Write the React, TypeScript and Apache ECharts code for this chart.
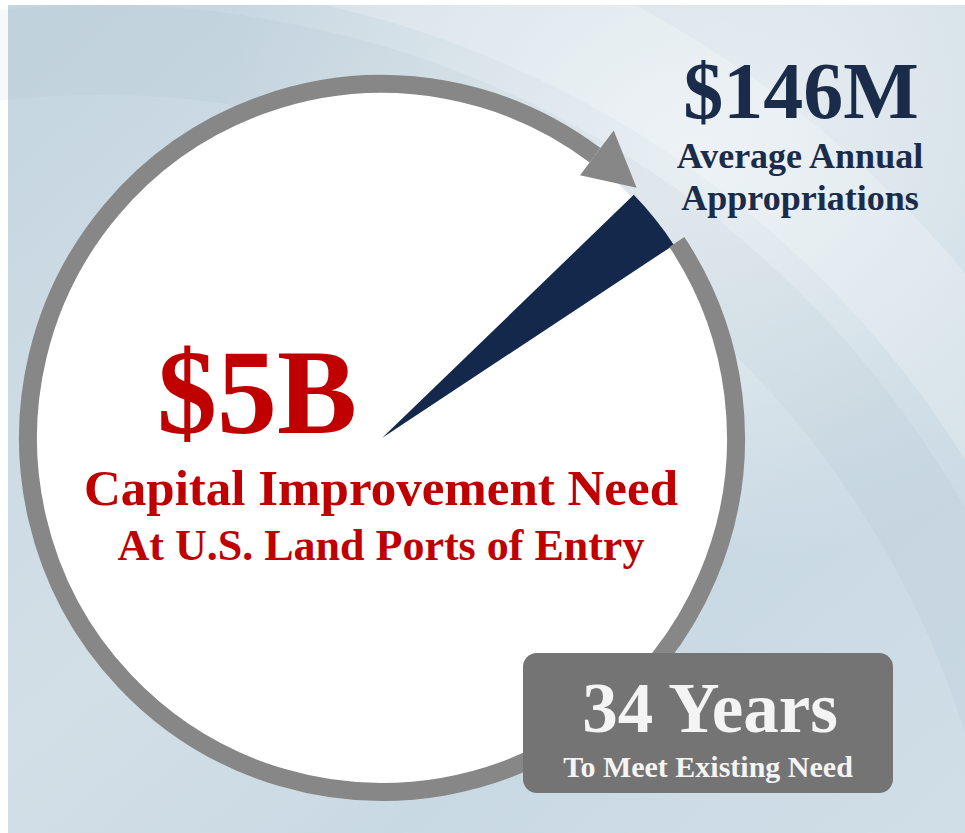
import React, { useEffect, useRef } from "react";
import * as echarts from "echarts";

// ---- data ----
const sliceNames = ["Average Annual Appropriations", "Remaining Capital Improvement Need"];
const totalNeedM = 5000; // $5B capital improvement need, in $M
const annualAppropM = 146; // $146M average annual appropriations
const yearsToMeet = 34;
const headlineLabels = ["$146M", "$5B", `${yearsToMeet} Years`];
const subLabels = [
  ["Average Annual", "Appropriations"],
  ["Capital Improvement Need", "At U.S. Land Ports of Entry"],
  ["To Meet Existing Need"],
];
const sliceValues = [annualAppropM, totalNeedM - annualAppropM];

// ---- layout ----
const CX = 382;
const CY = 438;
const SERIF = '"Liberation Serif", "Times New Roman", serif';
const RED = "#c00000";
const NAVY = "#14284b";
const NAVY_TEXT = "#1b2b4a";
const GRAY = "#878787";
const BOX = "#747474";

const deg = (d: number) => (d * Math.PI) / 180;
const pt = (angMath: number, r: number) => [CX + r * Math.cos(deg(angMath)), CY - r * Math.sin(deg(angMath))];

export default function App() {
  const ref = useRef<HTMLDivElement>(null);
  useEffect(() => {
    if (!ref.current) return;
    const chart = echarts.init(ref.current, undefined, { renderer: "svg" });
    const arrowBase = 53;
    const ringEnd = 33.6;
    const option: any = {
      animation: false,
      backgroundColor: "#ffffff",
      graphic: [
        {
          type: "rect",
          z: 0,
          silent: true,
          shape: { x: 8, y: 5, width: 957, height: 828 },
          style: {
            fill: new echarts.graphic.LinearGradient(0, 0, 1, 1, [
              { offset: 0, color: "#c4d5df" },
              { offset: 0.45, color: "#d3dfe7" },
              { offset: 0.7, color: "#c9d9e3" },
              { offset: 1, color: "#d0dee7" },
            ]),
          },
        },
        {
          type: "rect",
          z: 0,
          silent: true,
          shape: { x: 8, y: 5, width: 957, height: 828 },
          style: {
            fill: new echarts.graphic.RadialGradient(0.72, 0.18, 0.5, [
              { offset: 0, color: "rgba(238,243,246,0.8)" },
              { offset: 1, color: "rgba(238,243,246,0)" },
            ]),
          },
        },
        {
          type: "arc",
          z: 0,
          silent: true,
          shape: { cx: 100, cy: 1000, r: 1075, startAngle: deg(-100), endAngle: deg(0), clockwise: true },
          style: { stroke: "rgba(255,255,255,0.22)", lineWidth: 110, fill: "none" },
        },
        {
          type: "arc",
          z: 0,
          silent: true,
          shape: { cx: 100, cy: 1000, r: 950, startAngle: deg(-100), endAngle: deg(0), clockwise: true },
          style: { stroke: "rgba(140,165,182,0.08)", lineWidth: 90, fill: "none" },
        },
        {
          type: "circle",
          z: 1,
          silent: true,
          shape: { cx: CX, cy: CY, r: 347 },
          style: { fill: "#ffffff" },
        },
        {
          type: "arc",
          z: 3,
          silent: true,
          shape: { cx: CX, cy: CY, r: 354, startAngle: deg(-ringEnd), endAngle: deg(360 - arrowBase), clockwise: true },
          style: { stroke: GRAY, lineWidth: 18, fill: "none", lineCap: "butt" },
        },
        {
          type: "polygon",
          z: 3,
          silent: true,
          shape: { points: [pt(arrowBase, 329), pt(arrowBase, 385), pt(44.5, 357)] },
          style: { fill: GRAY },
        },
        {
          type: "rect",
          z: 4,
          silent: true,
          shape: { x: 523, y: 653, width: 370, height: 140, r: 14 },
          style: { fill: BOX },
        },
        {
          type: "text",
          z: 5,
          style: { x: 801, y: 91, text: headlineLabels[0], font: `bold 80px ${SERIF}`, fill: NAVY_TEXT, textAlign: "center", textVerticalAlign: "middle" },
        },
        {
          type: "text",
          z: 5,
          style: { x: 800, y: 156, text: subLabels[0][0], font: `bold 36px ${SERIF}`, fill: NAVY_TEXT, textAlign: "center", textVerticalAlign: "middle" },
        },
        {
          type: "text",
          z: 5,
          style: { x: 800, y: 198, text: subLabels[0][1], font: `bold 36px ${SERIF}`, fill: NAVY_TEXT, textAlign: "center", textVerticalAlign: "middle" },
        },
        {
          type: "text",
          z: 5,
          style: { x: 257, y: 392, text: headlineLabels[1], font: `bold 120px ${SERIF}`, fill: RED, textAlign: "center", textVerticalAlign: "middle" },
        },
        {
          type: "text",
          z: 5,
          style: { x: 381, y: 488, text: subLabels[1][0], font: `bold 51px ${SERIF}`, fill: RED, textAlign: "center", textVerticalAlign: "middle" },
        },
        {
          type: "text",
          z: 5,
          style: { x: 381, y: 545, text: subLabels[1][1], font: `bold 44px ${SERIF}`, fill: RED, textAlign: "center", textVerticalAlign: "middle" },
        },
        {
          type: "text",
          z: 5,
          style: { x: 710, y: 708, text: headlineLabels[2], font: `bold 71px ${SERIF}`, fill: "#f4f4f4", textAlign: "center", textVerticalAlign: "middle" },
        },
        {
          type: "text",
          z: 5,
          style: { x: 708, y: 766, text: subLabels[2][0], font: `bold 30px ${SERIF}`, fill: "#f4f4f4", textAlign: "center", textVerticalAlign: "middle" },
        },
      ],
      series: [
        {
          type: "pie",
          z: 2,
          silent: true,
          center: [CX, CY],
          radius: [0, 350],
          startAngle: 44,
          clockwise: true,
          avoidLabelOverlap: false,
          label: { show: false },
          labelLine: { show: false },
          emphasis: { disabled: true },
          data: sliceNames.map((name, i) => ({
            name,
            value: sliceValues[i],
            itemStyle: { color: i === 0 ? NAVY : "rgba(0,0,0,0)", borderWidth: 0 },
          })),
        },
      ],
    };
    chart.setOption(option);
    return () => chart.dispose();
  }, []);
  return <div ref={ref} style={{ position: "absolute", left: 0, top: 0, width: 965, height: 833 }} />;
}
